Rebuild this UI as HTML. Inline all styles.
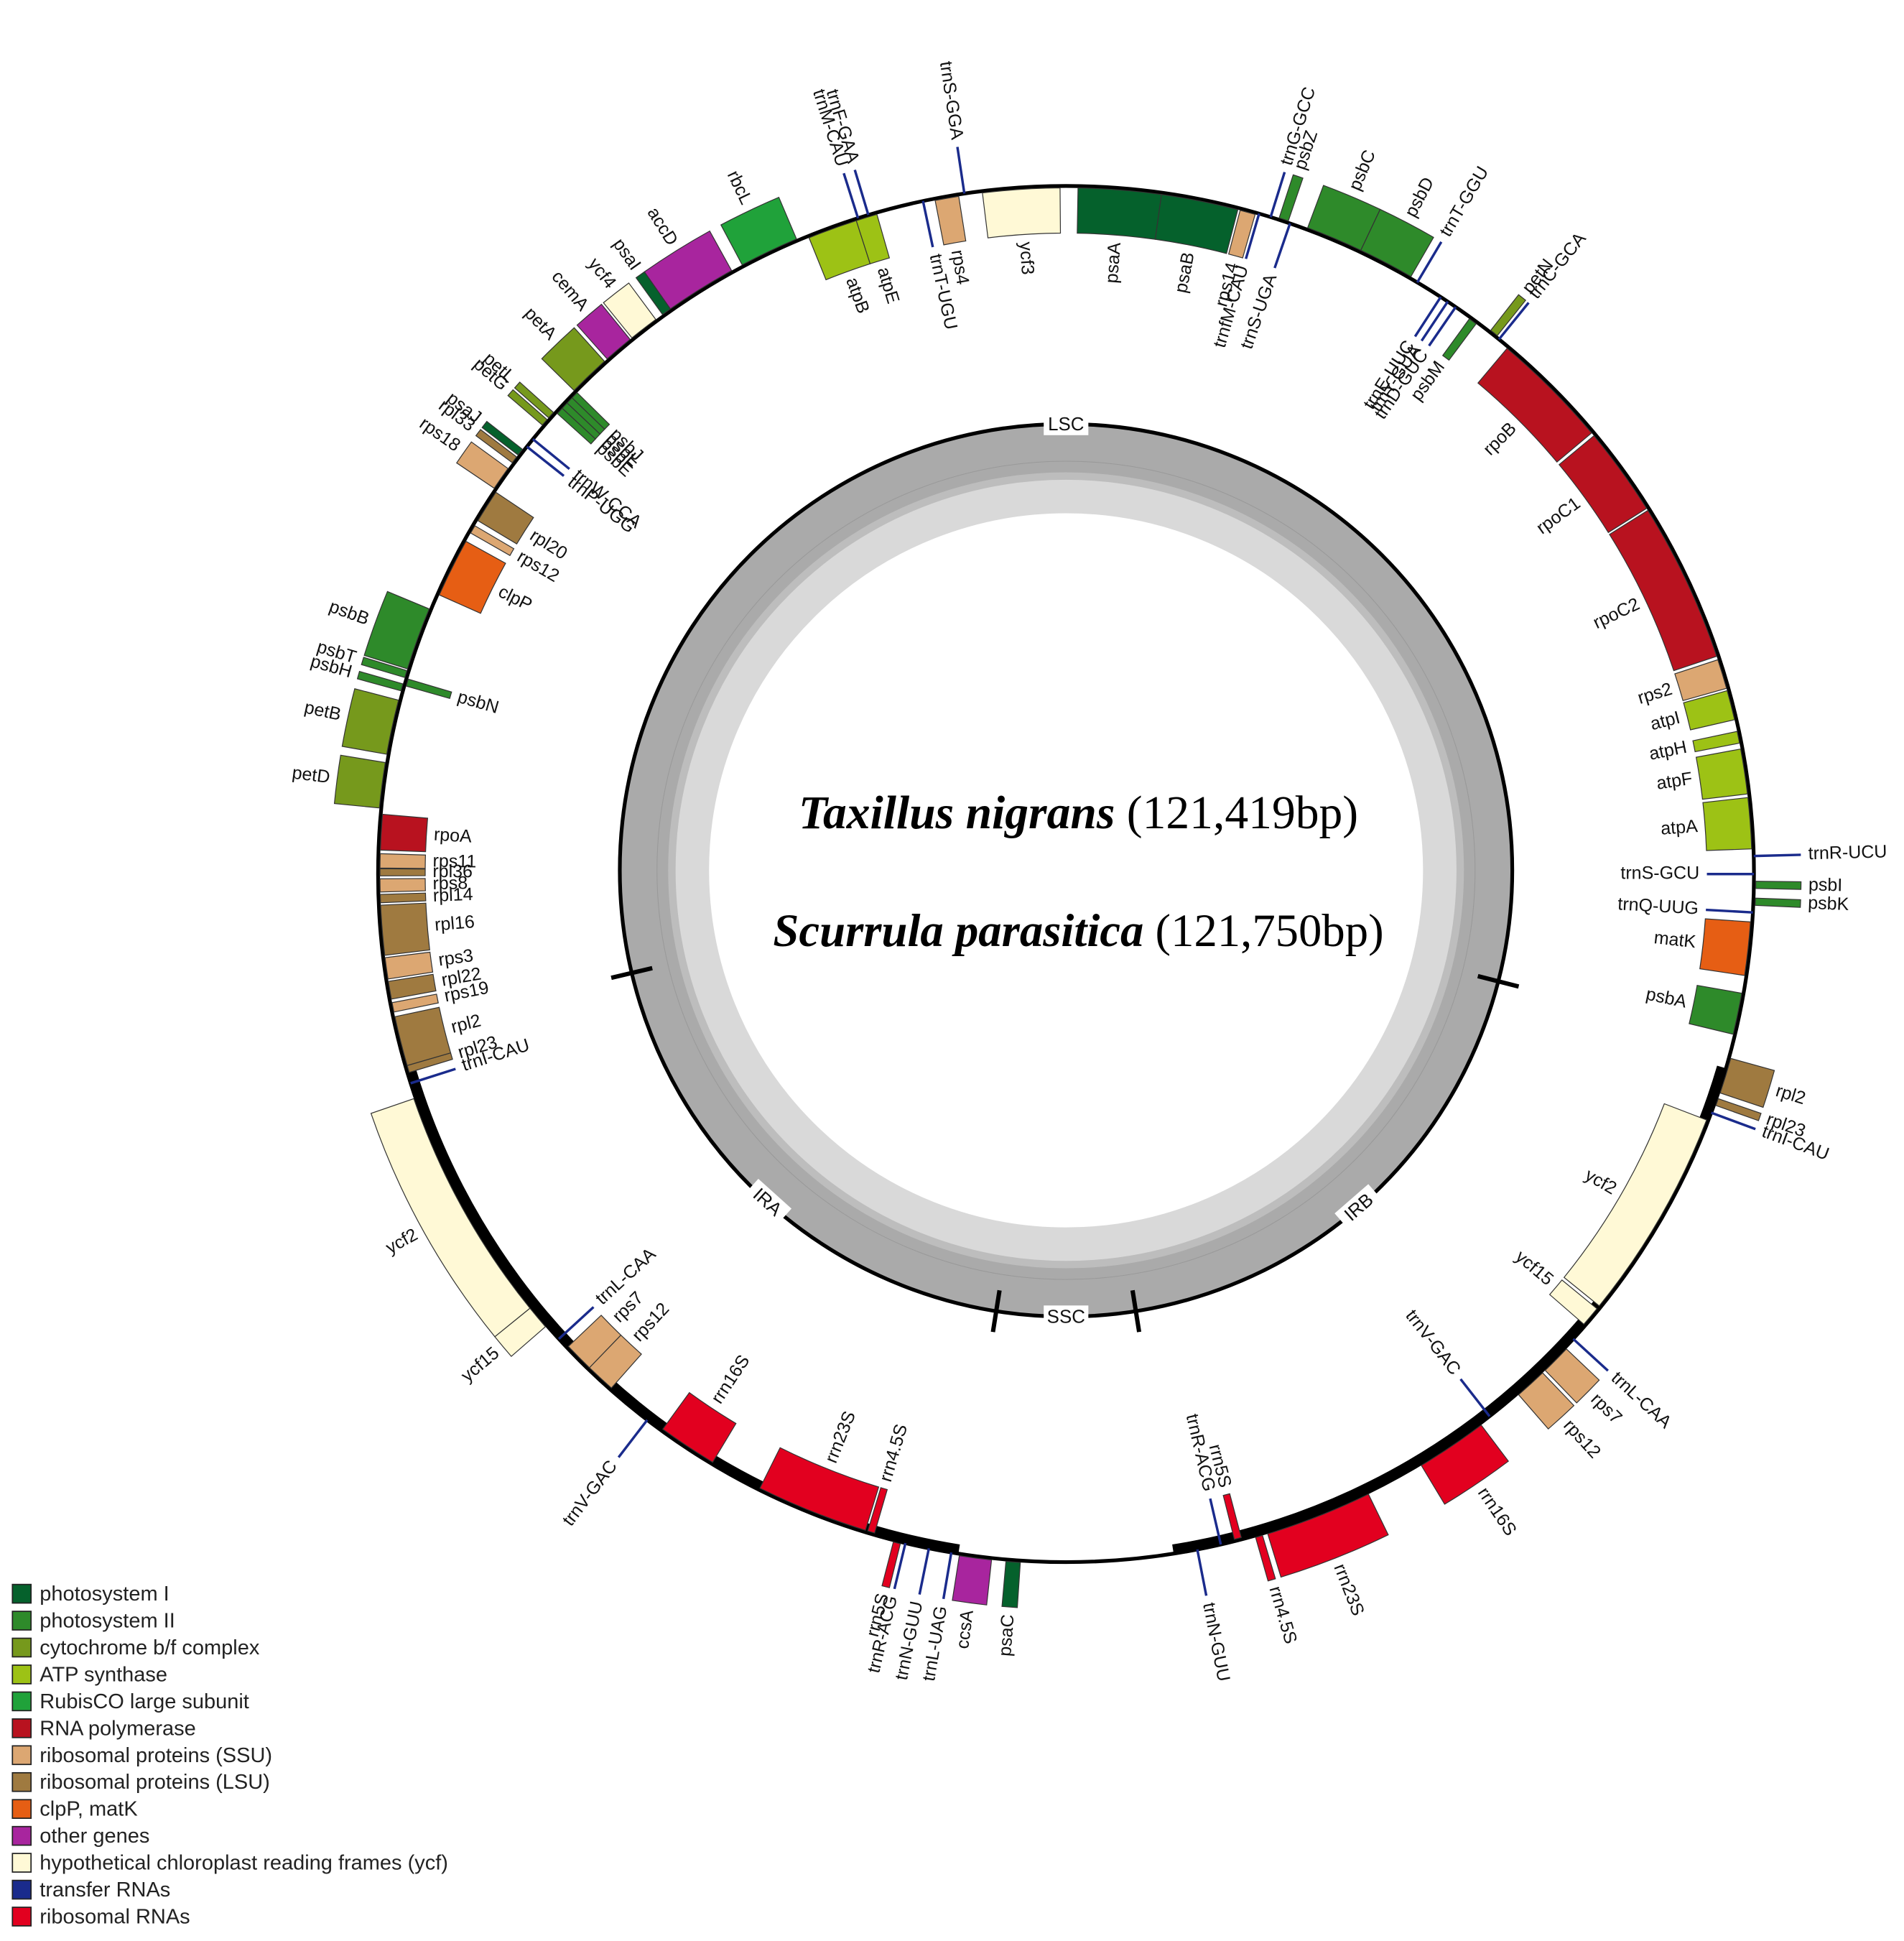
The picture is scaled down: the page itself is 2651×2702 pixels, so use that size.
<!DOCTYPE html>
<html><head><meta charset="utf-8"><style>
html,body{margin:0;padding:0;background:#fff}
svg{display:block}
text{font-family:"Liberation Sans",sans-serif}
</style></head><body>
<svg id="map" xmlns="http://www.w3.org/2000/svg" width="2651" height="2702" viewBox="0 0 1536 1565.6">
<rect width="1536" height="1566" fill="#fff"/>
<g id="gc">
<circle cx="860" cy="702" r="324" fill="none" stroke="#d9d9d9" stroke-width="72"/>
<circle cx="860" cy="702" r="340" fill="none" stroke="#aaaaaa" stroke-width="40"/>
<circle cx="860" cy="702" r="318" fill="none" stroke="#bdbdbd" stroke-width="6"/>
<circle cx="860" cy="702" r="330" fill="none" stroke="#999" stroke-width="0.6"/>
<circle cx="860" cy="702" r="360" fill="none" stroke="#000" stroke-width="3"/>
</g>
<g id="genes"></g>
<g id="center-title" text-anchor="middle">
<text x="870" y="668" font-size="38" style="font-family:'Liberation Serif',serif"><tspan font-style="italic" font-weight="bold">Taxillus nigrans</tspan> (121,419bp)</text>
<text x="870" y="763" font-size="37.5" style="font-family:'Liberation Serif',serif"><tspan font-style="italic" font-weight="bold">Scurrula parasitica</tspan> (121,750bp)</text>
</g>
<g id="legend"></g>
</svg>
<script>
const CX=860, CY=705, R=555, T=38;
const colors={psI:'#05612c',psII:'#2e8a2a',cyt:'#76991c',atp:'#9dc215',rbc:'#20a23a',rpo:'#b8121f',ssu:'#dca772',lsu:'#9f7a40',clp:'#e65e14',oth:'#a8259e',ycf:'#fff9d6',trn:'#1a2b8c',rrn:'#e2001f'};
const legendLabels=['photosystem I','photosystem II','cytochrome b/f complex','ATP synthase','RubisCO large subunit','RNA polymerase','ribosomal proteins (SSU)','ribosomal proteins (LSU)','clpP, matK','other genes','hypothetical chloroplast reading frames (ycf)','transfer RNAs','ribosomal RNAs'];
const legendKeys=['psI','psII','cyt','atp','rbc','rpo','ssu','lsu','clp','oth','ycf','trn','rrn'];
const geneNames=['psaA','psaB','rps14','trnfM-CAU','trnG-GCC','psbZ','trnS-UGA','psbC','psbD','trnT-GGU','trnE-UUC','trnY-GUA','trnD-GUC','psbM','petN','trnC-GCA','rpoB','rpoC1','rpoC2','rps2','atpI','atpH','atpF','atpA','trnR-UCU','trnS-GCU','psbI','psbK','trnQ-UUG','matK','psbA',
'rpl2','rpl23','trnI-CAU','ycf2','ycf15','trnL-CAA','rps7','rps12','trnV-GAC','rrn16S','rrn23S','rrn4.5S','rrn5S','trnR-ACG','trnN-GUU',
'psaC','ccsA','trnL-UAG',
'trnN-GUU','trnR-ACG','rrn5S','rrn4.5S','rrn23S','rrn16S','trnV-GAC','rps12','rps7','trnL-CAA','ycf15','ycf2','trnI-CAU','rpl23','rpl2',
'rps19','rpl22','rps3','rpl16','rpl14','rps8','rpl36','rps11','rpoA','petD','petB','psbH','psbN','psbT','psbB','clpP','rps12','rpl20','rps18','rpl33','psaJ','trnP-UGG','trnW-CCA','petG','petL','psbE','psbF','psbL','psbJ','petA','cemA','ycf4','psaI','accD','rbcL','atpB','atpE','trnM-CAU','trnF-GAA','trnT-UGU','rps4','trnS-GGA','ycf3'];
const geneStart=[1,8,14.7,16.3,17.3,18,19,20.5,25.3,30.7,33,33.7,34.5,36,38,39,40,50.3,58,71.8,74.5,78,79.5,83.6,88.5,90,90.6,92,93.2,94,100,
105.5,109,110.3,111,129.3,132.5,133.5,136.3,142,143,154,163.5,165.5,167,169,
183.8,186.2,189.6,
191.5,193.5,194.2,196.5,197,211,217.5,221.5,224,227.5,229,231,252.3,253.2,253.8,
258.4,259.5,261.2,263.2,267.6,268.5,269.9,270.5,272,275.5,280,285.4,285.9,286.6,287.3,294,299.8,301,304,306.6,307.4,308.4,309.2,310.6,311.4,312.2,312.8,313.4,314,314.5,318.3,321,324.2,325,332,338,342.2,342.4,343.3,348,349,351.5,353];
const geneEnd=[8,14.5,16,16.3,17.3,18.8,19,25.3,30,30.7,33,33.7,34.5,36.7,38.7,39,50,57.8,71.5,74.3,77,79,83.3,87.9,88.5,90,91.2,92.6,93.2,98.5,103.5,
108.5,109.6,110.3,129,131,132.5,136,139,142,149,163,164,165.5,167,169,
185,188.9,189.6,
191.5,193.5,194.2,196.5,206.5,216,217.5,224,226.5,227.5,231,251,252.3,253.8,258,
259.2,261,263,267.4,268.3,269.6,270.4,271.7,275,279.3,284.6,286,286.5,287.1,292.6,299,300.5,303.8,306,307.2,308,308.4,309.2,311.2,312,312.7,313.3,313.9,314.5,318,320.8,323.5,325,331,337,342.2,344,342.4,343.3,348,351,351.5,359.5];
const geneSide=['i','i','i','i','o','o','i','o','o','o','i','i','i','i','o','o','i','i','i','i','i','i','i','i','o','i','o','o','i','i','i',
'o','o','o','i','i','o','o','o','i','o','o','o','i','i','o',
'o','o','o',
'o','o','o','i','i','i','o','i','i','i','o','o','i','i','i',
'i','i','i','i','i','i','i','i','i','o','o','o','i','o','o','i','i','i','o','o','o','i','i','o','o','i','i','i','i','o','o','o','o','o','o','i','i','o','o','i','i','o','i'];
const geneCat=['psI','psI','ssu','trn','trn','psII','trn','psII','psII','trn','trn','trn','trn','psII','cyt','trn','rpo','rpo','rpo','ssu','atp','atp','atp','atp','trn','trn','psII','psII','trn','clp','psII',
'lsu','lsu','trn','ycf','ycf','trn','ssu','ssu','trn','rrn','rrn','rrn','rrn','trn','trn',
'psI','oth','trn',
'trn','trn','rrn','rrn','rrn','rrn','trn','ssu','ssu','trn','ycf','ycf','trn','lsu','lsu',
'ssu','lsu','ssu','lsu','lsu','ssu','lsu','ssu','rpo','cyt','cyt','psII','psII','psII','psII','clp','ssu','lsu','ssu','lsu','psI','trn','trn','cyt','cyt','psII','psII','psII','psII','cyt','oth','ycf','psI','oth','rbc','atp','atp','trn','trn','trn','ssu','trn','ycf'];
const regionNames=['LSC','IRB','SSC','IRA'];
const regionBounds=[256.7,104.4,171,189];
const regionLabelAngle=[0,139,180,222];

const NS='http://www.w3.org/2000/svg';
function el(t,a,p){const e=document.createElementNS(NS,t);for(const k in a)e.setAttribute(k,a[k]);(p||document.getElementById('genes')).appendChild(e);return e;}
function pt(a,r){const t=a*Math.PI/180;return [CX+r*Math.sin(t),CY-r*Math.cos(t)];}
function sector(a0,a1,r0,r1){const p1=pt(a0,r1),p2=pt(a1,r1),p3=pt(a1,r0),p4=pt(a0,r0);const lg=(a1-a0)>180?1:0;
return `M${p1[0]},${p1[1]} A${r1},${r1} 0 ${lg} 1 ${p2[0]},${p2[1]} L${p3[0]},${p3[1]} A${r0},${r0} 0 ${lg} 0 ${p4[0]},${p4[1]}Z`;}
function arc(a0,a1,r){const p1=pt(a0,r),p2=pt(a1,r);const lg=(a1-a0)>180?1:0;return `M${p1[0]},${p1[1]} A${r},${r} 0 ${lg} 1 ${p2[0]},${p2[1]}`;}

const oc=el('circle',{cx:CX,cy:CY,r:R,fill:'none',stroke:'#000','stroke-width':3});


const ir1=el('path',{d:arc(regionBounds[1]+2,regionBounds[2],R-4),fill:'none',stroke:'#000','stroke-width':7});


const ir2=el('path',{d:arc(regionBounds[3],regionBounds[0]-1,R-4),fill:'none',stroke:'#000','stroke-width':7});



for(let i=0;i<geneNames.length;i++){
  let a0=geneStart[i],a1=geneEnd[i];const side=geneSide[i],cat=geneCat[i];
  const mid=(a0+a1)/2;
  if(cat==='trn'){
    const p=side==='o'?[pt(mid,R),pt(mid,R+T)]:[pt(mid,R-T),pt(mid,R)];
    const ln=el('line',{x1:p[0][0],y1:p[0][1],x2:p[1][0],y2:p[1][1],stroke:colors.trn,'stroke-width':2});
    
    
  } else {
    if(a1-a0<0.6){a0=mid-0.3;a1=mid+0.3;}
    const d=side==='o'?sector(a0,a1,R+1.5,R+T):sector(a0,a1,R-T,R-1.5);
    const b=el('path',{d:d,fill:colors[cat],stroke:'#333','stroke-width':0.7});
    
    
  }
  const rl=side==='o'?R+T+6:R-T-6;
  const p=pt(mid,rl);
  let rot,anchor;
  if(mid<180){rot=mid-90;anchor=side==='o'?'start':'end';}
  else{rot=mid-270;anchor=side==='o'?'end':'start';}
  const tx=el('text',{x:p[0],y:p[1],'font-size':14.5,'text-anchor':anchor,'dominant-baseline':'middle',fill:'#111',transform:`rotate(${rot} ${p[0]} ${p[1]})`});
  tx.textContent=geneNames[i];
  
  
}

const ICX=860,ICY=702,IR=360;
function ipt(a,r){const t=a*Math.PI/180;return [ICX+r*Math.sin(t),ICY-r*Math.cos(t)];}
for(let i=0;i<regionBounds.length;i++){
  const a=ipt(regionBounds[i],IR-17),b=ipt(regionBounds[i],IR+17);
  const tk=el('line',{x1:a[0],y1:a[1],x2:b[0],y2:b[1],stroke:'#000','stroke-width':3.5});
  
  
}
for(let i=0;i<regionNames.length;i++){
  const ang=regionLabelAngle[i];const p=ipt(ang,IR);
  let rot=ang>90&&ang<270?ang-180:ang;
  const g=el('g',{transform:`translate(${p[0]},${p[1]}) rotate(${rot})`});
  
  
  el('rect',{x:-18,y:-9,width:36,height:18,fill:'#fff'},g);
  const t=el('text',{x:0,y:1,'font-size':15,'text-anchor':'middle','dominant-baseline':'middle',fill:'#111'},g);
  t.textContent=regionNames[i];
}

const lg=document.getElementById('legend');
for(let i=0;i<legendLabels.length;i++){
  const y=1278+i*21.7;
  const r=el('rect',{x:10,y:y,width:15,height:15,fill:colors[legendKeys[i]],stroke:'#222','stroke-width':1},lg);
  
  
  const t=el('text',{x:32,y:y+13,'font-size':16.8,fill:'#222'},lg);
  t.textContent=legendLabels[i];
  
  
}
</script>
</body></html>
